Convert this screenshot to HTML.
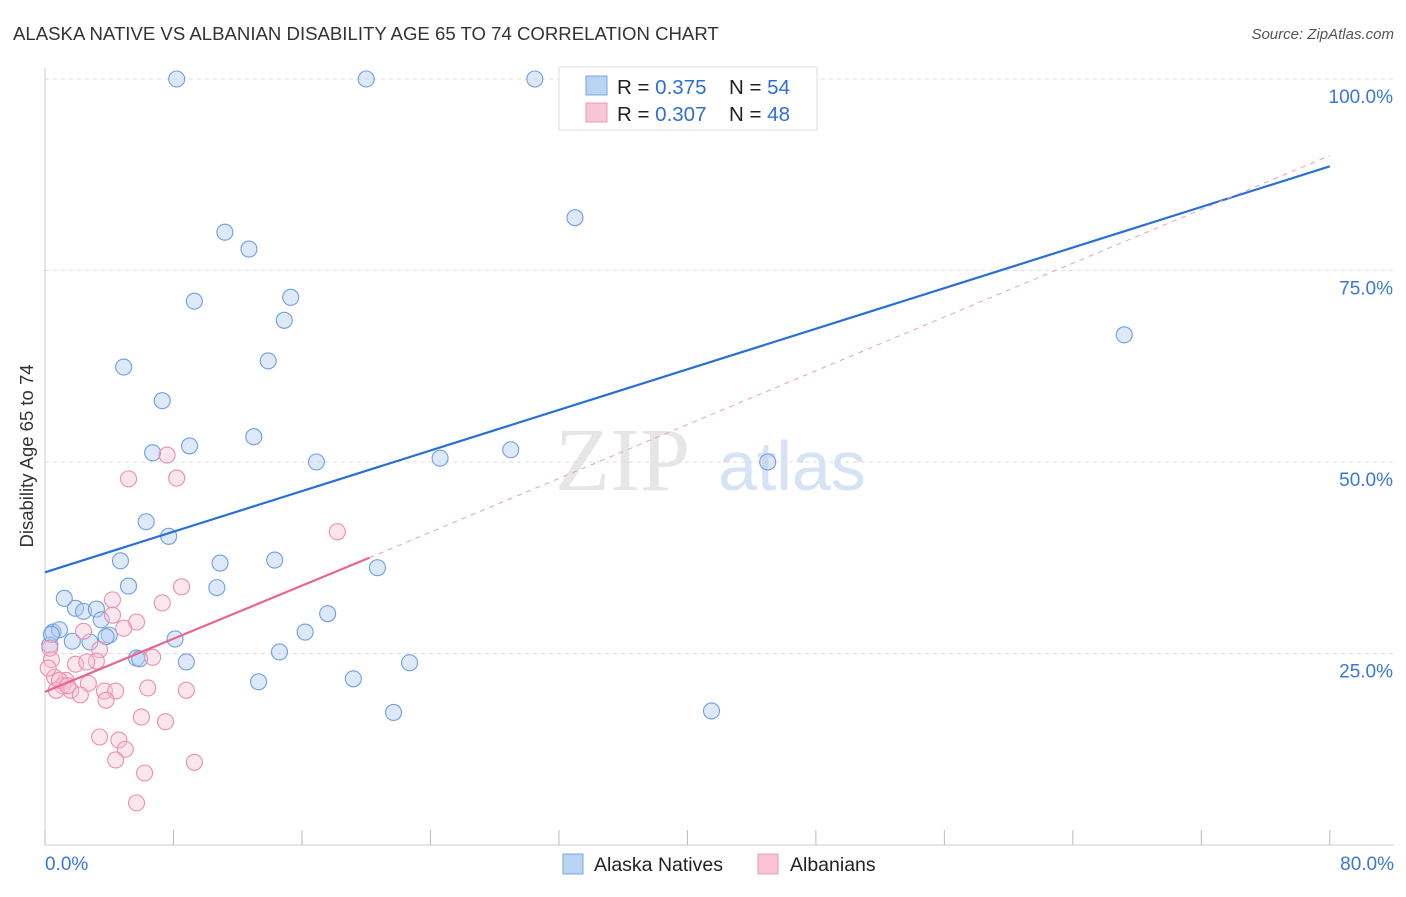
<!DOCTYPE html>
<html><head><meta charset="utf-8"><style>
body{margin:0;background:#fff;font-family:"Liberation Sans",sans-serif}
</style></head><body>
<svg id="chart" width="1406" height="892" xmlns="http://www.w3.org/2000/svg">
<text x="13" y="40" font-size="18.6" fill="#333">ALASKA NATIVE VS ALBANIAN DISABILITY AGE 65 TO 74 CORRELATION CHART</text>
<text x="1394" y="39" font-size="15" fill="#555" font-style="italic" text-anchor="end">Source: ZipAtlas.com</text>
<text x="33" y="456" font-size="18.5" fill="#333" text-anchor="middle" transform="rotate(-90 33 456)">Disability Age 65 to 74</text>
<text x="555" y="490" font-size="90" fill="#e6e6e6" font-family="Liberation Serif,serif">ZIP</text>
<text x="718" y="490" font-size="70" fill="#d6e3f5">atlas</text>
<g id="grid"></g><g id="axes"></g><g id="pts"></g><g id="lines"></g>
<g>
<rect x="559" y="67" width="258" height="63" fill="#fff" stroke="#ddd"/>
<rect x="586" y="76" width="21" height="19" fill="#b9d3f3" stroke="#7aa6e0"/>
<rect x="586" y="103" width="21" height="19" fill="#f9c5d5" stroke="#eb9ab4"/>
<text x="617" y="94" font-size="20.5" fill="#222">R = <tspan fill="#2f6fd1">0.375</tspan><tspan x="729">N = </tspan><tspan fill="#2f6fd1">54</tspan></text>
<text x="617" y="121" font-size="20.5" fill="#222">R = <tspan fill="#2f6fd1">0.307</tspan><tspan x="729">N = </tspan><tspan fill="#2f6fd1">48</tspan></text>
</g>
<g>
<rect x="563" y="854" width="20" height="20" fill="#b9d3f3" stroke="#7aa6e0"/>
<text x="594" y="871" font-size="19.5" fill="#222">Alaska Natives</text>
<rect x="758" y="854" width="20" height="20" fill="#f9c5d5" stroke="#eb9ab4"/>
<text x="790" y="871" font-size="19.5" fill="#222">Albanians</text>
</g>
</svg>
<script>
const yTicks=[25,50,75,100];
const blueX=[8.2,20.0,30.5,44.5,33.0,11.2,12.7,9.3,15.3,14.9,4.9,13.9,7.3,13.0,6.7,9.0,16.9,24.6,29.0,45.0,67.2,6.3,7.7,4.7,10.9,14.3,20.7,5.2,10.7,1.2,1.9,2.4,3.2,3.5,17.6,0.5,0.9,1.7,2.8,4.0,8.1,16.2,5.7,5.9,8.8,14.6,22.7,13.3,19.2,21.7,41.5,0.3,3.8,0.4];
const blueY=[100,100,100,100,81.9,80.0,77.8,71.0,71.5,68.5,62.4,63.2,58.0,53.3,51.2,52.1,50.0,50.5,51.6,50.0,66.6,42.2,40.3,37.1,36.8,37.2,36.2,33.8,33.6,32.2,30.9,30.5,30.8,29.4,30.2,27.8,28.1,26.6,26.5,27.4,26.9,27.8,24.4,24.3,23.9,25.2,23.8,21.3,21.7,17.3,17.5,26.1,27.2,27.5];
const pinkX=[5.2,8.2,7.6,18.2,8.5,7.3,4.2,5.7,4.2,4.9,3.4,2.4,6.7,3.2,1.9,2.6,1.3,0.6,1.1,1.6,2.7,3.7,4.4,6.4,8.8,2.2,3.8,0.4,0.3,0.2,6.0,7.5,3.4,4.6,5.0,4.4,6.2,9.3,5.7,0.7,0.9,1.4];
const pinkY=[47.8,47.9,50.9,40.9,33.7,31.6,32.0,29.1,30.0,28.3,25.5,27.9,24.5,24.0,23.6,23.9,21.5,21.9,20.8,20.2,21.1,20.1,20.1,20.5,20.2,19.6,18.9,24.2,25.7,23.1,16.7,16.1,14.1,13.7,12.5,11.1,9.4,10.8,5.5,20.2,21.5,20.8];
const blueLine=[35.6,88.6];
const pinkLine=[20.0,37.5];const pinkEnd=20.2;const pinkDashEnd=90;
const X=v=>45+v*16.06, Y=v=>845-v*7.66;
const NS="http://www.w3.org/2000/svg";
function mk(t,a,p){const e=document.createElementNS(NS,t);for(const k in a)e.setAttribute(k,a[k]);p.appendChild(e);return e;}
const grid=document.getElementById('grid'),axes=document.getElementById('axes'),pts=document.getElementById('pts'),lines=document.getElementById('lines');
yTicks.forEach(t=>{
 const l=mk('line',{x1:45,x2:1394,y1:Y(t),y2:Y(t),stroke:'#ddd','stroke-dasharray':'4,4'},grid);
 
 
 const tx=mk('text',{x:1393,y:Y(t)+24,'font-size':19,fill:'#3a78d4','text-anchor':'end'},axes);
 tx.textContent=t.toFixed(1)+'%';
 
 
});
mk('line',{x1:45,x2:45,y1:68,y2:845,stroke:'#ccc'},axes);
mk('line',{x1:45,x2:1394,y1:845,y2:845,stroke:'#ccc'},axes);
for(let i=0;i<=10;i++){const tk=mk('line',{x1:X(i*8),x2:X(i*8),y1:830,y2:845,stroke:'#bbb'},axes);
 
 }
let t0=mk('text',{x:45,y:870,'font-size':19,fill:'#3a78d4'},axes);t0.textContent='0.0%';


let t1=mk('text',{x:1394,y:870,'font-size':19,fill:'#3a78d4','text-anchor':'end'},axes);t1.textContent='80.0%';


blueX.forEach((x,i)=>{const c=mk('circle',{cx:X(x),cy:Y(blueY[i]),r:8,fill:'#b3cff2','fill-opacity':0.45,stroke:'#6f9fde','stroke-width':1.1},pts);
 
 });
pinkX.forEach((x,i)=>{const c=mk('circle',{cx:X(x),cy:Y(pinkY[i]),r:8,fill:'#f8c0d2','fill-opacity':0.4,stroke:'#eb8fae','stroke-width':1.1},pts);
 
 });
const bl=mk('line',{x1:X(0),y1:Y(blueLine[0]),x2:X(80),y2:Y(blueLine[1]),stroke:'#2a6fd6','stroke-width':2.2},lines);


const pd=mk('line',{x1:X(pinkEnd),y1:Y(pinkLine[1]),x2:X(80),y2:Y(pinkDashEnd),stroke:'#e8a0b8','stroke-width':1,'stroke-dasharray':'5,5'},lines);


const pl=mk('line',{x1:X(0),y1:Y(pinkLine[0]),x2:X(pinkEnd),y2:Y(pinkLine[1]),stroke:'#e8658f','stroke-width':2.2},lines);


</script>
</body></html>
